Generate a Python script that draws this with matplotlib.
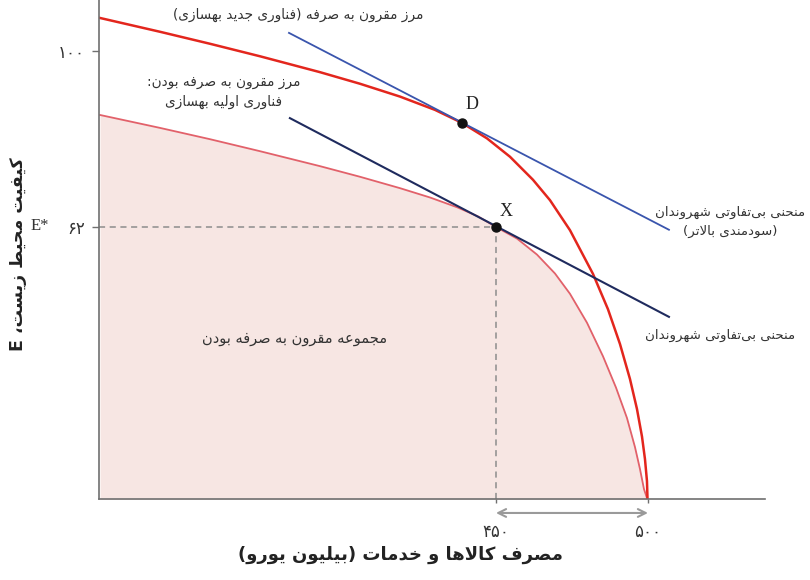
import matplotlib
matplotlib.use("Agg")
import matplotlib.pyplot as plt

# --- data ---
# outer frontier: new abatement technology
x_new = [319.74, 339.47, 355.92, 372.37, 392.11, 405.26, 418.42, 429.93, 438.82, 447.04, 454.61,
         462.17, 467.76, 474.34, 481.91, 486.84, 490.79, 494.08, 496.38, 498.03, 499.01, 499.67, 500.0]
y_new = [107.12, 104.14, 101.55, 98.85, 95.42, 92.92, 90.15, 87.28, 84.47, 81.13, 77.16,
         72.19, 67.79, 61.31, 51.87, 44.25, 36.74, 29.18, 22.71, 16.77, 11.91, 7.16, 0.0]
# inner frontier: original technology (feasible set)
x_old = [319.74, 339.47, 355.92, 372.37, 392.11, 405.26, 418.42, 428.29, 437.17, 444.08, 450.0,
         456.91, 463.49, 469.41, 474.34, 479.93, 485.20, 489.47, 493.09, 495.72, 497.37, 498.68,
         499.67, 500.0]
y_old = [86.18, 83.39, 80.95, 78.36, 75.13, 72.84, 70.38, 68.37, 66.27, 64.29, 62.0,
         59.50, 56.04, 51.96, 47.58, 41.34, 34.09, 27.35, 20.77, 14.5, 9.75, 5.44,
         3.49, 0.0]
# indifference curves (drawn straight)
x_ic_high = [381.9, 506.9]
y_ic_high = [103.9, 61.4]
x_ic_low = [382.2, 506.9]
y_ic_low = [85.5, 42.6]
point_D = (438.8, 84.5)
point_X = (450.0, 62.0)
yticks = [100, 62]
ytick_labels = ["۱۰۰", "۶۲"]
xticks = [450, 500]
xtick_labels = ["۴۵۰", "۵۰۰"]

# --- minimal persian shaping (matplotlib does not join arabic letters) ---
FORMS = {
    'ا': (0xFE8D, 0), 'آ': (0xFE81, 0), 'ب': (0xFE8F, 1), 'پ': (0xFB56, 1),
    'ت': (0xFE95, 1), 'ث': (0xFE99, 1), 'ج': (0xFE9D, 1), 'چ': (0xFB7A, 1),
    'ح': (0xFEA1, 1), 'خ': (0xFEA5, 1), 'د': (0xFEA9, 0), 'ذ': (0xFEAB, 0),
    'ر': (0xFEAD, 0), 'ز': (0xFEAF, 0), 'ژ': (0xFB8A, 0), 'س': (0xFEB1, 1),
    'ش': (0xFEB5, 1), 'ص': (0xFEB9, 1), 'ض': (0xFEBD, 1), 'ط': (0xFEC1, 1),
    'ظ': (0xFEC5, 1), 'ع': (0xFEC9, 1), 'غ': (0xFECD, 1), 'ف': (0xFED1, 1),
    'ق': (0xFED5, 1), 'ک': (0xFB8E, 1), 'گ': (0xFB92, 1), 'ل': (0xFEDD, 1),
    'م': (0xFEE1, 1), 'ن': (0xFEE5, 1), 'و': (0xFEED, 0), 'ه': (0xFEE9, 1),
    'ی': (0xFBFC, 1),
}
MIRROR = {'(': ')', ')': '('}


def shape_line(s):
    out = []
    i = 0
    n = len(s)
    while i < n:
        c = s[i]
        if c not in FORMS:
            if c != '\u200c':
                out.append(c)
            i += 1
            continue
        prev = s[i - 1] if i > 0 else ''
        joins_prev = prev in FORMS and FORMS[prev][1] == 1
        nxt = s[i + 1] if i + 1 < n else ''
        if c == 'ل' and nxt == 'ا':
            out.append(chr(0xFEFC if joins_prev else 0xFEFB))
            i += 2
            continue
        base, dual = FORMS[c]
        joins_next = dual == 1 and nxt in FORMS
        if joins_prev and joins_next:
            out.append(chr(base + 3))
        elif joins_prev:
            out.append(chr(base + 1))
        elif joins_next:
            out.append(chr(base + 2))
        else:
            out.append(chr(base))
        i += 1
    vis = [MIRROR.get(ch, ch) for ch in reversed(out)]
    return ''.join(vis)


def fa(s):
    return '\n'.join(shape_line(line) for line in s.split('\n'))


def px(x, y):
    # figure position from pixel position (top-left origin)
    return x / 810, 1 - y / 580


plt.rcParams['font.family'] = ['DejaVu Sans']

fig = plt.figure(figsize=(8.1, 5.8), dpi=100)
ax = fig.add_axes([99 / 810, 81 / 580, 666 / 810, 499 / 580])
ax.set_xlim(319.4, 538.5)
ax.set_ylim(3.28, 111.0)

ax.fill_between(x_old, y_old, 0, color='#f7e6e3', lw=0)
ax.plot(x_old, y_old, color='#e2616a', lw=1.3)
ax.plot(x_new, y_new, color='#e3261d', lw=1.8)
ax.plot(x_ic_high, y_ic_high, color='#3a55ad', lw=1.3)
ax.plot(x_ic_low, y_ic_low, color='#1f2b5e', lw=1.5)

# dashed guides to X
ax.plot([319.4, point_X[0]], [point_X[1], point_X[1]], color='#8c8c8c', lw=1.1, ls=(0, (4, 3)))
ax.plot([point_X[0], point_X[0]], [3.28, point_X[1]], color='#8c8c8c', lw=1.1, ls=(0, (4, 3)))

ax.plot(*point_D, 'o', color='#111111', ms=6.5, zorder=5)
ax.plot(*point_X, 'o', color='#111111', ms=6.5, zorder=5)
ax.annotate('D', point_D, xytext=(10, 18), textcoords='offset pixels', family='Liberation Serif',
            fontsize=13, color='#222222', ha='center', va='center')
ax.annotate('X', point_X, xytext=(10, 15), textcoords='offset pixels', family='Liberation Serif',
            fontsize=13, color='#222222', ha='center', va='center')

# double arrow between 450 and 500
ax.annotate('', xy=(500, -0.028), xytext=(450, -0.028), xycoords=ax.get_xaxis_transform(),
            arrowprops=dict(arrowstyle='<->', color='#9a9a9a', lw=1.5, shrinkA=0, shrinkB=0,
                            mutation_scale=14),
            annotation_clip=False)

for side in ['top', 'right']:
    ax.spines[side].set_visible(False)
for side in ['left', 'bottom']:
    ax.spines[side].set_color('#707070')
    ax.spines[side].set_linewidth(1.2)

ax.set_yticks(yticks)
ax.set_yticklabels(ytick_labels)
ax.set_xticks(xticks)
ax.set_xticklabels(xtick_labels)
ax.tick_params(axis='y', length=5, width=1.0, color='#707070', pad=5, labelsize=12, labelcolor='#333333')
ax.tick_params(axis='x', length=3, width=1.0, color='#707070', pad=14, labelsize=12, labelcolor='#333333')

fig.text(*px(40, 226), 'E*', family='Liberation Serif', fontsize=12, color='#333333',
         ha='center', va='center')

tc = '#333333'
fig.text(*px(298, 15), fa('مرز مقرون به صرفه (فناوری جدید بهسازی)'), fontsize=9.8, color=tc,
         ha='center', va='center')
fig.text(*px(224, 92), fa('مرز مقرون به صرفه بودن:\nفناوری اولیه بهسازی'), fontsize=9.8, color=tc,
         ha='center', va='center', linespacing=1.6)
fig.text(*px(730, 222), fa('منحنی بی‌تفاوتی شهروندان\n(سودمندی بالاتر)'), fontsize=9.6, color=tc,
         ha='center', va='center', linespacing=1.6)
fig.text(*px(720, 335), fa('منحنی بی‌تفاوتی شهروندان'), fontsize=9.6, color=tc,
         ha='center', va='center')
fig.text(*px(295, 338), fa('مجموعه مقرون به صرفه بودن'), fontsize=10.5, color=tc,
         ha='center', va='center')

fig.text(*px(400, 555), fa('مصرف کالاها و خدمات (بیلیون یورو)'), fontsize=13,
         fontweight='bold', color='#222222', ha='center', va='center')
fig.text(*px(18, 254), fa('کیفیت محیط زیست، E'), fontsize=12.5, fontweight='bold',
         color='#222222', ha='center', va='center', rotation=90)

plt.savefig('out.png', dpi=100)
